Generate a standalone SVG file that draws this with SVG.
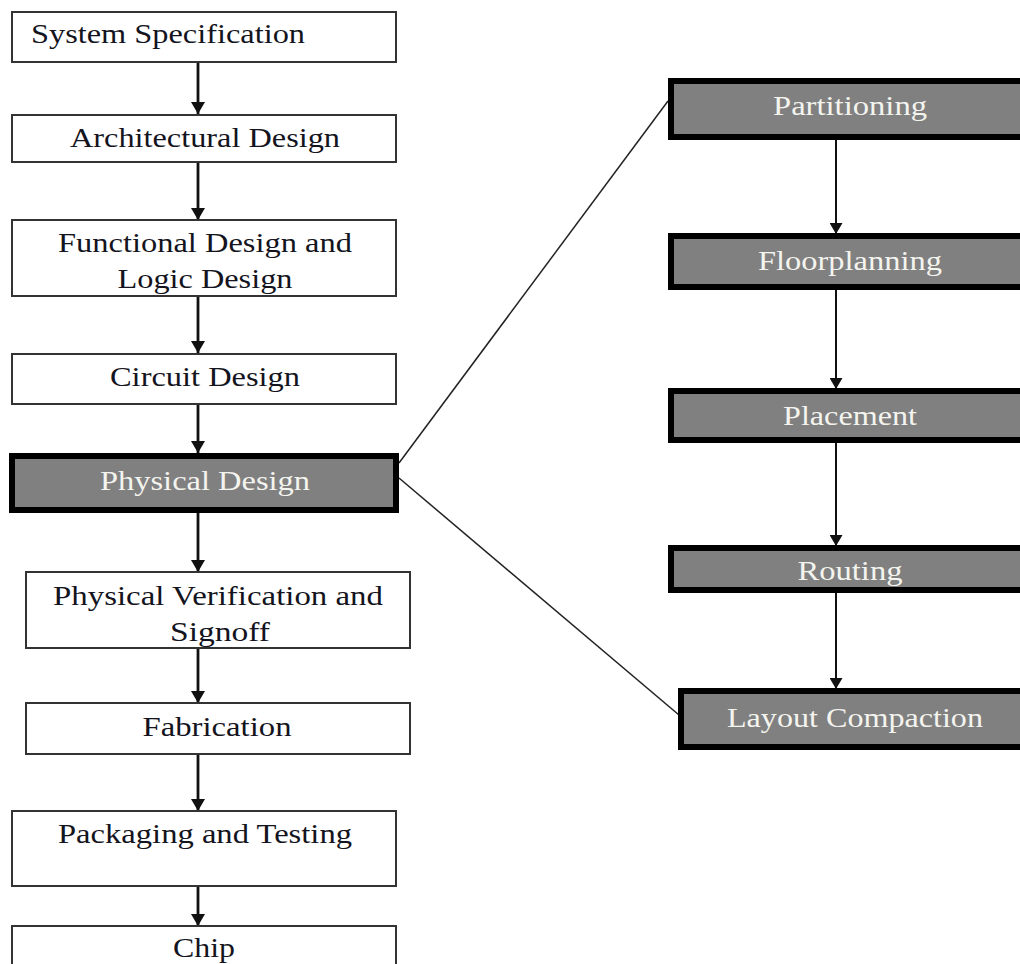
<svg xmlns="http://www.w3.org/2000/svg" width="1020" height="964" viewBox="0 0 1020 964">
<style>
.wb{fill:#fff;stroke:#333;stroke-width:2}
.gb{fill:#808080;stroke:#000;stroke-width:6}
.t{font-family:"Liberation Serif","Times New Roman",Tinos,serif;font-size:27px;fill:#141420}
.lt{font-family:"Liberation Serif","Times New Roman",Tinos,serif;font-size:27px;fill:#f4f4ef}
.c{text-anchor:middle}
.a{stroke:#111;stroke-width:2.8;fill:none;marker-end:url(#ah)}
.ar{stroke:#111;stroke-width:2;fill:none;marker-end:url(#ah2)}
.d{stroke:#222;stroke-width:1.5;fill:none}
</style>
<defs>
<marker id="ah" markerUnits="userSpaceOnUse" markerWidth="12" markerHeight="14" refX="12" refY="7" orient="auto" viewBox="0 0 12 14">
<path d="M0,0 L12,7 L0,14 Z" fill="#111"/>
</marker>
<marker id="ah2" markerUnits="userSpaceOnUse" markerWidth="11" markerHeight="13" refX="11" refY="6.5" orient="auto" viewBox="0 0 11 13">
<path d="M0,0 L11,6.5 L0,13 Z" fill="#111"/>
</marker>
<clipPath id="cf"><rect x="12" y="220" width="384" height="76"/></clipPath>
<clipPath id="cv"><rect x="26" y="572" width="384" height="76"/></clipPath>
<clipPath id="cr"><rect x="671" y="548" width="380" height="42"/></clipPath>
</defs>
<g id="connectors">
<path class="a" d="M198,62 V114"/>
<path class="a" d="M198,163 V220"/>
<path class="a" d="M198,297 V353"/>
<path class="a" d="M198,405 V453"/>
<path class="a" d="M198,513 V572"/>
<path class="a" d="M198,649 V703"/>
<path class="a" d="M198,755 V811"/>
<path class="a" d="M198,887 V926"/>
<path class="ar" d="M836,140 V234"/>
<path class="ar" d="M836,290 V389"/>
<path class="ar" d="M836,443 V546"/>
<path class="ar" d="M836,593 V689"/>
<path class="d" d="M399,463 L668,101"/>
<path class="d" d="M399,478 L679,715"/>
</g>
<g id="n-system-spec">
<rect class="wb" x="12" y="12" width="384" height="50"/>
<text class="t" x="31" y="43" textLength="274" lengthAdjust="spacingAndGlyphs">System Specification</text>
</g>
<g id="n-architectural">
<rect class="wb" x="12" y="115" width="384" height="47"/>
<text class="t c" x="205" y="147" textLength="270" lengthAdjust="spacingAndGlyphs">Architectural Design</text>
</g>
<g id="n-functional">
<rect class="wb" x="12" y="220" width="384" height="76"/>
<g clip-path="url(#cf)">
<text class="t c" x="205" y="252" textLength="294" lengthAdjust="spacingAndGlyphs">Functional Design and</text>
<text class="t c" x="205" y="288" textLength="175" lengthAdjust="spacingAndGlyphs">Logic Design</text>
</g>
</g>
<g id="n-circuit">
<rect class="wb" x="12" y="354" width="384" height="50"/>
<text class="t c" x="205" y="386" textLength="190" lengthAdjust="spacingAndGlyphs">Circuit Design</text>
</g>
<g id="n-physical">
<rect class="gb" x="12" y="456" width="384" height="54"/>
<text class="lt c" x="205" y="490" textLength="210" lengthAdjust="spacingAndGlyphs">Physical Design</text>
</g>
<g id="n-verification">
<rect class="wb" x="26" y="572" width="384" height="76"/>
<g clip-path="url(#cv)">
<text class="t c" x="218" y="605" textLength="330" lengthAdjust="spacingAndGlyphs">Physical Verification and</text>
<text class="t c" x="220" y="641" textLength="100" lengthAdjust="spacingAndGlyphs">Signoff</text>
</g>
</g>
<g id="n-fabrication">
<rect class="wb" x="26" y="703" width="384" height="51"/>
<text class="t c" x="217" y="736" textLength="149" lengthAdjust="spacingAndGlyphs">Fabrication</text>
</g>
<g id="n-packaging">
<rect class="wb" x="12" y="811" width="384" height="75"/>
<text class="t c" x="205" y="843" textLength="294" lengthAdjust="spacingAndGlyphs">Packaging and Testing</text>
</g>
<g id="n-chip">
<rect class="wb" x="12" y="926" width="384" height="60"/>
<text class="t c" x="204" y="957" textLength="62" lengthAdjust="spacingAndGlyphs">Chip</text>
</g>
<g id="n-partitioning">
<rect class="gb" x="671" y="81" width="380" height="56"/>
<text class="lt c" x="850" y="115" textLength="154" lengthAdjust="spacingAndGlyphs">Partitioning</text>
</g>
<g id="n-floorplanning">
<rect class="gb" x="671" y="236" width="380" height="51"/>
<text class="lt c" x="850" y="270" textLength="184" lengthAdjust="spacingAndGlyphs">Floorplanning</text>
</g>
<g id="n-placement">
<rect class="gb" x="671" y="391" width="380" height="49"/>
<text class="lt c" x="850" y="425" textLength="134" lengthAdjust="spacingAndGlyphs">Placement</text>
</g>
<g id="n-routing">
<rect class="gb" x="671" y="548" width="380" height="42"/>
<g clip-path="url(#cr)">
<text class="lt c" x="850" y="580" textLength="105" lengthAdjust="spacingAndGlyphs">Routing</text>
</g>
</g>
<g id="n-layout">
<rect class="gb" x="681" y="691" width="380" height="56"/>
<text class="lt c" x="855" y="727" textLength="256" lengthAdjust="spacingAndGlyphs">Layout Compaction</text>
</g>
</svg>
